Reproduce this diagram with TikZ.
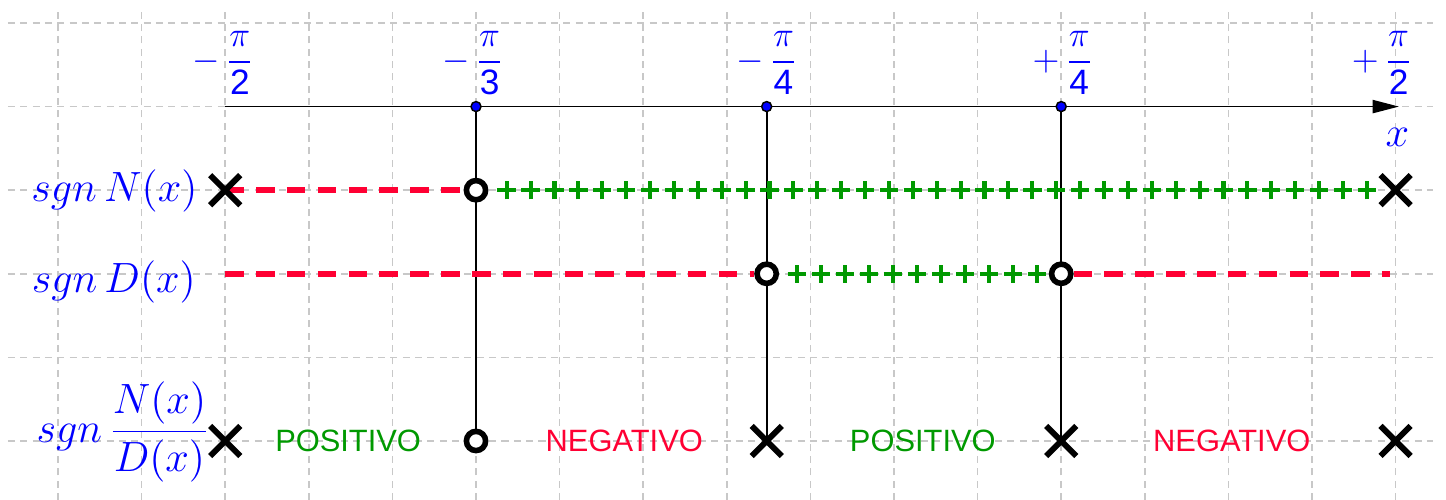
\documentclass[tikz,border=0pt]{standalone}
\usepackage{amsmath}
\usepackage{fontspec}
\setsansfont{Liberation Sans}
\usepackage{tikz}
\usetikzlibrary{calc,arrows.meta,shapes.misc,backgrounds}

\definecolor{ggblue}{RGB}{0,0,255}
\definecolor{ggred}{RGB}{255,0,51}
\definecolor{gggreen}{RGB}{0,153,0}
\definecolor{gggrid}{RGB}{200,200,200}

\tikzset{
  gridline/.style={gggrid, line width=0.5pt, dash pattern=on 2.4pt off 1.8pt},
  negline/.style={ggred, line width=1.9pt, dash pattern=on 6.3pt off 4.2pt},
  posmark/.style={gggreen, line width=1.4pt},
  zeromark/.style={circle, draw=black, fill=white, line width=1.9pt, minimum size=0.23cm, inner sep=0pt},
  polemark/.style={cross out, draw=black, line width=2pt, minimum size=0.29cm, inner sep=0pt},
  rootdot/.style={circle, draw=black, fill=ggblue, line width=0.5pt, minimum size=0.12cm, inner sep=0pt},
  ticklabel/.style={ggblue, anchor=base, inner sep=0pt, font=\fontsize{12}{14}\selectfont},
  rowlabel/.style={ggblue, anchor=east, inner sep=0pt, font=\fontsize{14.8}{18}\selectfont},
  signtext/.style={inner sep=0pt, font=\sffamily\fontsize{10.5}{12}\selectfont}
}

\begin{document}
\begin{tikzpicture}
    \useasboundingbox (-0.694,-0.706) rectangle (16.603,5.275);

    % Grid
    \begin{scope}[on background layer]
    \foreach \k in {0,...,16}
        \draw[gridline] (\k,-0.706) -- (\k,5.18);
    \foreach \r in {0,...,5}
        \draw[gridline] (-0.6,\r) -- (16.45,\r);
    \end{scope}

    % Axis
    \coordinate (x0) at (2,4);
    \coordinate (x1) at (16.04,4);
    \draw[line width=0.6pt, -{Triangle[length=9pt,width=4.5pt]}] (x0) -- (x1);
    \node[ggblue, font=\fontsize{14.4}{17}\selectfont] (xlab) at (16.02,3.635) {$x$};

    % Roots on the axis
    \node[rootdot] (dA) at (5,4) {};
    \node[rootdot] (dB) at (8.477,4) {};
    \node[rootdot] (dC) at (12,4) {};

    % Axis labels
    \node[ticklabel] (tL) at (1.976,4.43) {$-\,\dfrac{\pi}{\mathsf{2}}$};
    \node[ticklabel] (tA) at (4.964,4.43) {$-\,\dfrac{\pi}{\mathsf{3}}$};
    \node[ticklabel] (tB) at (8.479,4.43) {$-\,\dfrac{\pi}{\mathsf{4}}$};
    \node[ticklabel] (tC) at (12.02,4.43) {$+\,\dfrac{\pi}{\mathsf{4}}$};
    \node[ticklabel] (tR) at (15.84,4.43) {$+\,\dfrac{\pi}{\mathsf{2}}$};

    % Row labels
    \node[rowlabel] (lN) at (1.675,2.994) {$sgn\,N(x)$};
    \node[rowlabel] (lD) at (1.655,1.906) {$sgn\,D(x)$};
    \node[rowlabel, font=\fontsize{15.6}{18}\selectfont] (lQ) at (1.821,0.111) {$sgn\,\dfrac{N(x)}{D(x)}$};

    % sgn N(x)
    \node[polemark] (nL) at (2,3) {};
    \node[zeromark] (nA) at (5,3) {};
    \node[polemark] (nR) at (16,3) {};
    \foreach \i [evaluate=\i as \x using 5.367+\i*0.2858] in {0,...,36}
        \draw[posmark] (\x-0.11,3) -- (\x+0.11,3) (\x,2.89) -- (\x,3.11);

    % sgn D(x)
    \coordinate (dL) at (2,2);
    \coordinate (dR) at (15.93,2);
    \node[zeromark] (zB) at (8.477,2) {};
    \node[zeromark] (zC) at (12,2) {};
    \foreach \i [evaluate=\i as \x using 8.836+\i*0.2878] in {0,...,10}
        \draw[posmark] (\x-0.11,2) -- (\x+0.11,2) (\x,1.89) -- (\x,2.11);

    % sgn N(x)/D(x)
    \node[polemark] (qL) at (2,0) {};
    \node[zeromark] (qA) at (5,0) {};
    \node[polemark] (qB) at (8.477,0) {};
    \node[polemark] (qC) at (12,0) {};
    \node[polemark] (qR) at (16,0) {};
    \node[signtext, gggreen] (s1) at ($(qL)!0.49!(qA)$) {POSITIVO};
    \node[signtext, ggred] (s2) at ($(qA)!0.51!(qB)$) {NEGATIVO};
    \node[signtext, gggreen] (s3) at ($(qB)!0.53!(qC)$) {POSITIVO};
    \node[signtext, ggred] (s4) at ($(qC)!0.51!(qR)$) {NEGATIVO};

    % Connectors
    \begin{scope}[on background layer]
    \draw[line width=0.6pt] (dA) -- (qA);
    \draw[line width=0.6pt] (dB) -- (qB.center);
    \draw[line width=0.6pt] (dC) -- (qC.center);
    \draw[negline] (nL.center) -- (nA);
    \draw[negline] (dL) -- (zB);
    \draw[negline] (zC) -- (dR);
    \end{scope}

\end{tikzpicture}
\end{document}
